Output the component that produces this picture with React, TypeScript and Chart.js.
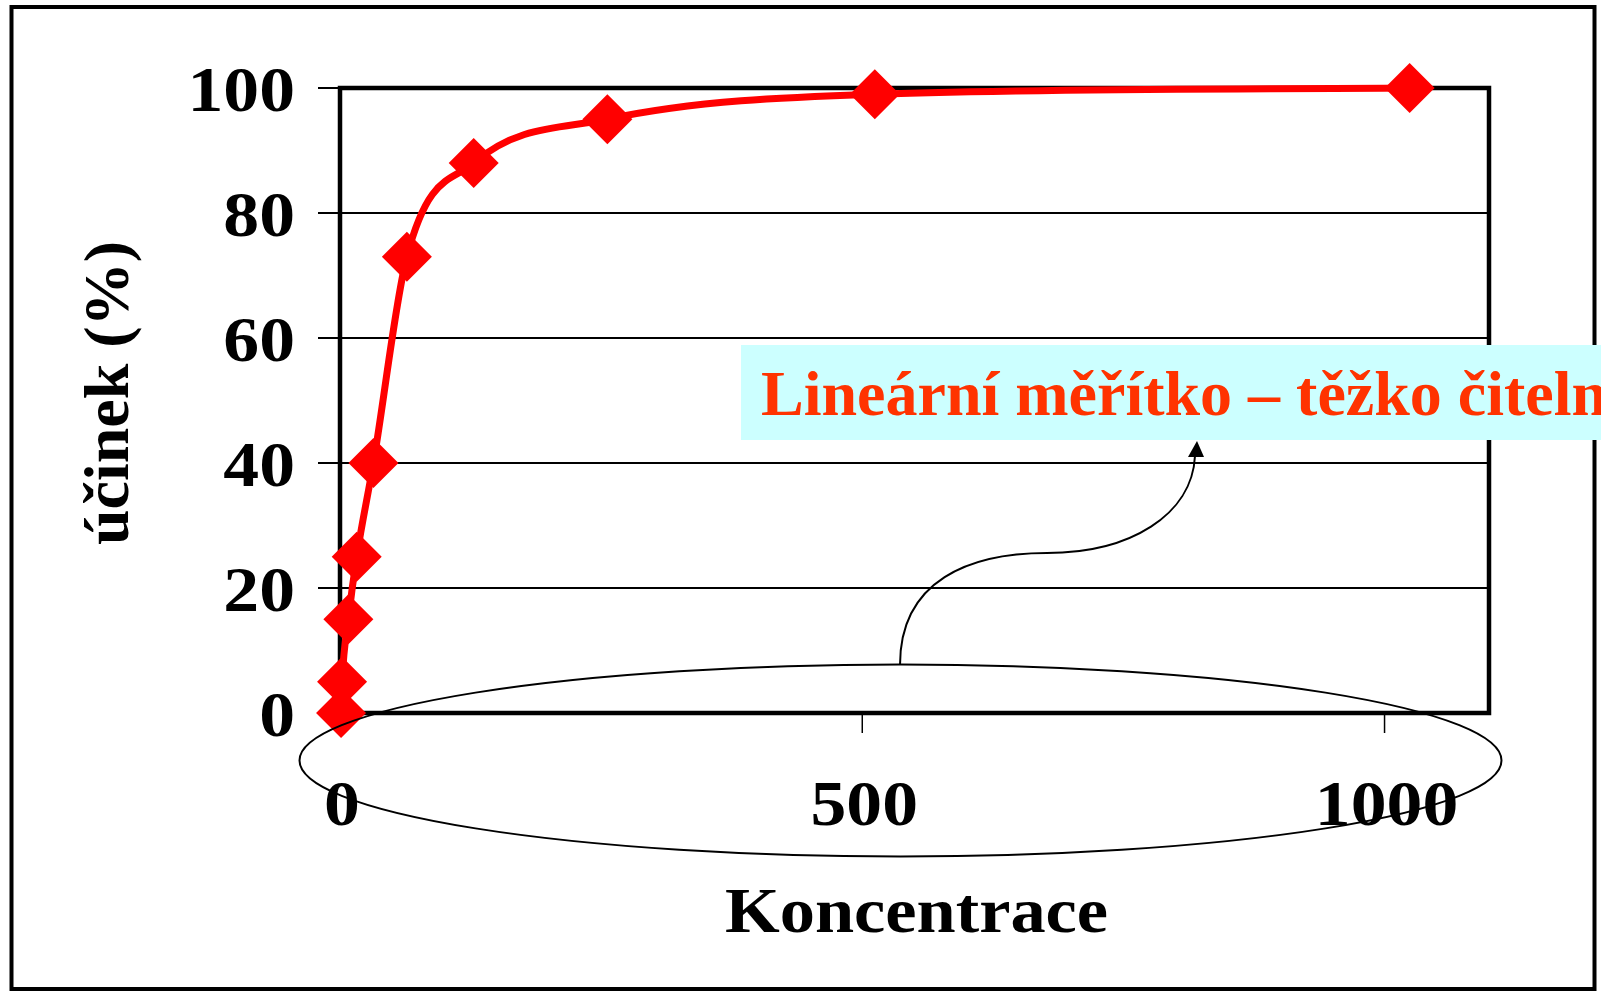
import React, { useEffect, useRef } from "react";
import { Chart, registerables } from "chart.js";

Chart.register(...registerables);

// ---- data ----
const concentrations = [1, 2, 8, 16, 32, 64, 128, 256, 512, 1024];
const effects = [0, 5, 15, 25, 40, 73, 88, 95, 99, 100];
const xTickValues = [0, 500, 1000];
const yTickValues = [0, 20, 40, 60, 80, 100];
const xTitle = "Koncentrace";
const yTitle = "účinek (%)";
const noteText = "Lineární měřítko – těžko čitelné";
const xMin = 0;
const xMax = 1100;
const yMin = 0;
const yMax = 100;

const FONT = '"Liberation Serif", "Times New Roman", serif';
const STRETCH = 1.12;

function stretchedText(
  ctx: CanvasRenderingContext2D,
  text: string,
  x: number,
  y: number,
  sx: number,
  align: CanvasTextAlign
) {
  ctx.save();
  ctx.translate(x, y);
  ctx.scale(sx, 1);
  ctx.textAlign = align;
  ctx.textBaseline = "alphabetic";
  ctx.fillText(text, 0, 0);
  ctx.restore();
}

const decorPlugin = {
  id: "decor",
  beforeDraw(chart: any) {
    const ctx: CanvasRenderingContext2D = chart.ctx;
    ctx.save();
    ctx.fillStyle = "#ffffff";
    ctx.fillRect(0, 0, chart.width, chart.height);
    // outer frame
    ctx.strokeStyle = "#000";
    ctx.lineWidth = 4;
    ctx.strokeRect(11.5, 7, 1583, 982);
    ctx.restore();
  },
  beforeDatasetsDraw(chart: any) {
    const ctx: CanvasRenderingContext2D = chart.ctx;
    const { left, right, top, bottom } = chart.chartArea;
    const xs = chart.scales.x;
    const ys = chart.scales.y;
    ctx.save();
    // plot border
    ctx.strokeStyle = "#000";
    ctx.lineWidth = 4.5;
    ctx.strokeRect(left, top, right - left, bottom - top);

    // y tick marks + labels
    ctx.lineWidth = 2;
    ctx.fillStyle = "#000";
    ctx.font = `bold 64px ${FONT}`;
    ys.ticks.forEach((t: any) => {
      const py = ys.getPixelForValue(t.value);
      ctx.beginPath();
      ctx.moveTo(left - 22, py);
      ctx.lineTo(left, py);
      ctx.stroke();
      stretchedText(ctx, String(t.value), 295, py + 23, STRETCH, "right");
    });
    // x tick marks + labels
    ctx.lineWidth = 1.5;
    xs.ticks.forEach((t: any) => {
      const px = xs.getPixelForValue(t.value);
      ctx.beginPath();
      ctx.moveTo(px, bottom);
      ctx.lineTo(px, bottom + 20);
      ctx.stroke();
      stretchedText(ctx, String(t.value), px + 2, 825, STRETCH, "center");
    });
    // axis titles
    stretchedText(ctx, xTitle, (left + right) / 2 + 2, 932, 1.1, "center");
    ctx.save();
    ctx.translate(128, 393);
    ctx.rotate(-Math.PI / 2);
    ctx.textAlign = "center";
    ctx.textBaseline = "alphabetic";
    ctx.fillText(yTitle, 0, 0);
    ctx.restore();
    ctx.restore();
  },
  afterDraw(chart: any) {
    const ctx: CanvasRenderingContext2D = chart.ctx;
    ctx.save();
    // annotation box
    ctx.fillStyle = "#CCFFFF";
    ctx.fillRect(741, 345, 1601 - 741, 95);
    ctx.fillStyle = "#FF3300";
    ctx.font = `bold 64px ${FONT}`;
    ctx.textAlign = "left";
    ctx.textBaseline = "alphabetic";
    ctx.fillText(noteText, 761, 415);

    // arrow
    ctx.strokeStyle = "#000";
    ctx.lineWidth = 2;
    ctx.beginPath();
    ctx.moveTo(900, 665);
    ctx.bezierCurveTo(900, 580, 970, 553, 1047, 553);
    ctx.bezierCurveTo(1130, 553, 1192, 515, 1195, 456);
    ctx.stroke();
    ctx.fillStyle = "#000";
    ctx.beginPath();
    ctx.moveTo(1197, 441);
    ctx.lineTo(1188, 457);
    ctx.lineTo(1204, 457);
    ctx.closePath();
    ctx.fill();

    // ellipse
    ctx.lineWidth = 2;
    ctx.beginPath();
    ctx.ellipse(900.5, 760.5, 601, 96, 0, 0, Math.PI * 2);
    ctx.stroke();
    ctx.restore();
  },
};

export default function App() {
  const ref = useRef<HTMLCanvasElement | null>(null);

  useEffect(() => {
    document.body.style.margin = "0";
    document.body.style.overflow = "hidden";
    const canvas = ref.current;
    if (!canvas) return;
    const chart = new Chart(canvas, {
      type: "line",
      data: {
        datasets: [
          {
            data: concentrations.map((c, i) => ({ x: c, y: effects[i] })),
            borderColor: "#FF0000",
            backgroundColor: "#FF0000",
            borderWidth: 7,
            pointStyle: "rectRot",
            pointRadius: 25,
            pointBorderWidth: 0,
            pointBackgroundColor: "#FF0000",
            cubicInterpolationMode: "monotone",
            clip: false as any,
          },
        ],
      },
      options: {
        responsive: false,
        animation: false,
        devicePixelRatio: 1,
        layout: { padding: { left: 340, top: 88, right: 112, bottom: 278 } },
        plugins: {
          legend: { display: false },
          tooltip: { enabled: false },
          title: { display: false },
        },
        scales: {
          x: {
            type: "linear",
            min: xMin,
            max: xMax,
            ticks: { display: false },
            grid: { display: false, drawTicks: false },
            border: { display: false },
            afterBuildTicks: (s: any) => {
              s.ticks = xTickValues.map((v) => ({ value: v }));
            },
          },
          y: {
            min: yMin,
            max: yMax,
            ticks: { display: false },
            grid: { color: "#000", lineWidth: 2, drawTicks: false },
            border: { display: false },
            afterBuildTicks: (s: any) => {
              s.ticks = yTickValues.map((v) => ({ value: v }));
            },
          },
        },
      },
      plugins: [decorPlugin],
    });
    return () => chart.destroy();
  }, []);

  return (
    <canvas
      ref={ref}
      width={1601}
      height={991}
      style={{ display: "block", width: 1601, height: 991 }}
    />
  );
}
